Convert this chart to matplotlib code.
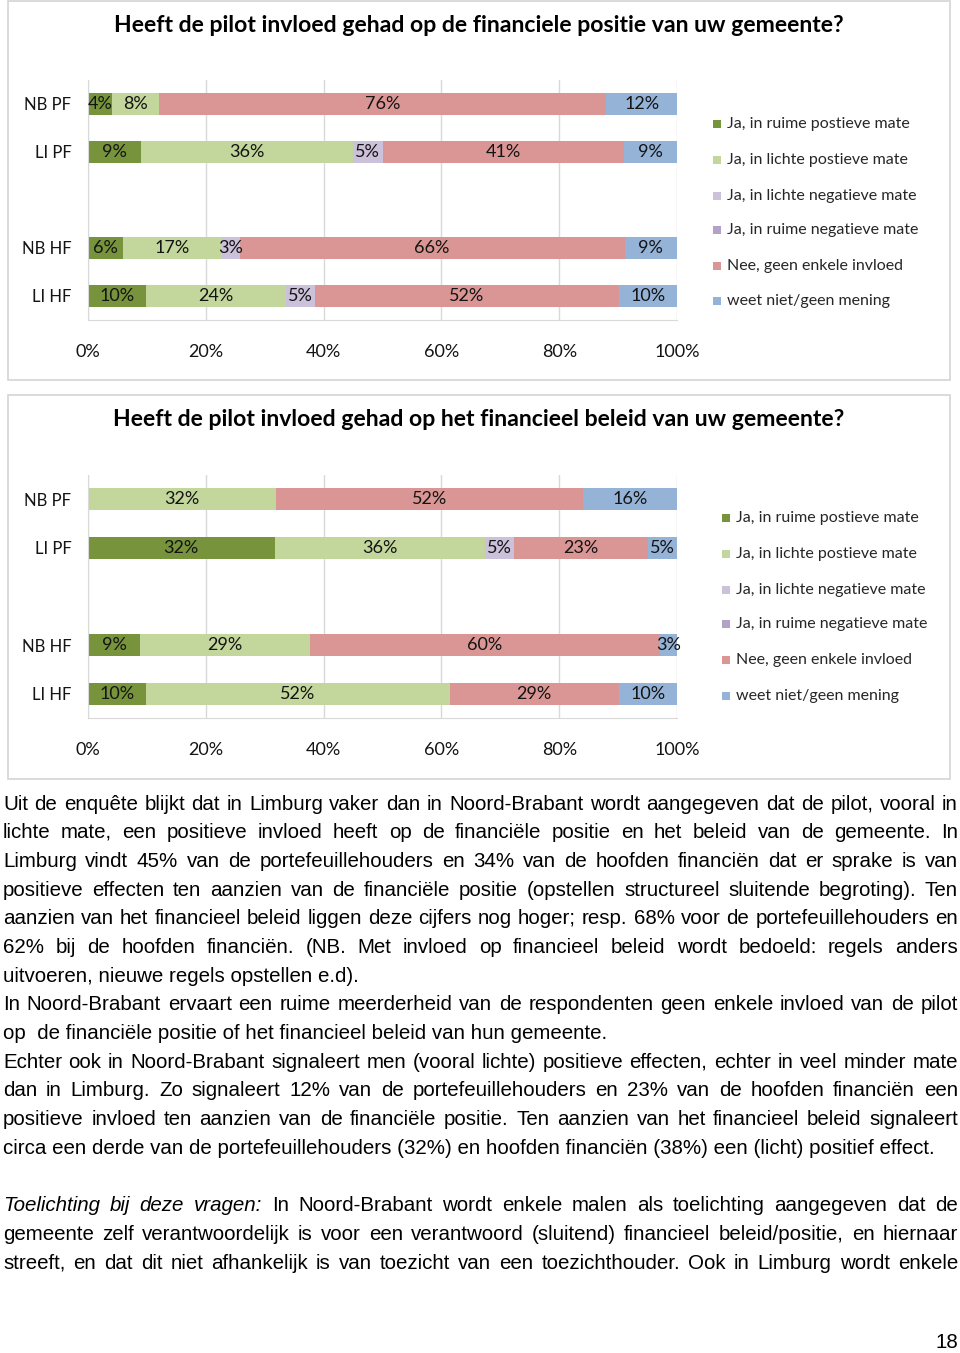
import matplotlib.pyplot as plt
from matplotlib.patches import Rectangle

W, H = 960, 1353


def fx(x):
    return x / W


def fy(y):
    return 1 - y / H


# categories and series
categories = ['NB PF', 'LI PF', 'NB HF', 'LI HF']
series_labels = ['Ja, in ruime postieve mate', 'Ja, in lichte postieve mate',
                 'Ja, in lichte negatieve mate', 'Ja, in ruime negatieve mate',
                 'Nee, geen enkele invloed', 'weet niet/geen mening']
colors = ['#77933C', '#C3D69B', '#CCC1DA', '#B3A2C7', '#D99694', '#95B3D7']

# chart 1: financiele positie
title_1 = 'Heeft de pilot invloed gehad op de financiele positie van uw gemeente?'
ruime_pos_1 = [4, 9, 6, 10]
lichte_pos_1 = [8, 36, 17, 24]
lichte_neg_1 = [0, 5, 3, 5]
ruime_neg_1 = [0, 0, 0, 0]
geen_1 = [76, 41, 66, 52]
weet_1 = [12, 9, 9, 10]

# chart 2: financieel beleid
title_2 = 'Heeft de pilot invloed gehad op het financieel beleid van uw gemeente?'
ruime_pos_2 = [0, 32, 9, 10]
lichte_pos_2 = [32, 36, 29, 52]
lichte_neg_2 = [0, 5, 0, 0]
ruime_neg_2 = [0, 0, 0, 0]
geen_2 = [52, 23, 60, 29]
weet_2 = [16, 5, 3, 10]

xticks = [0, 20, 40, 60, 80, 100]

body_lines = [
    'Uit de enquête blijkt dat in Limburg vaker dan in Noord-Brabant wordt aangegeven dat de pilot, vooral in',
    'lichte mate, een positieve invloed heeft op de financiële positie en het beleid van de gemeente. In',
    'Limburg vindt 45% van de portefeuillehouders en 34% van de hoofden financiën dat er sprake is van',
    'positieve effecten ten aanzien van de financiële positie (opstellen structureel sluitende begroting). Ten',
    'aanzien van het financieel beleid liggen deze cijfers nog hoger; resp. 68% voor de portefeuillehouders en',
    '62% bij de hoofden financiën. (NB. Met invloed op financieel beleid wordt bedoeld: regels anders',
    'uitvoeren, nieuwe regels opstellen e.d).',
    'In Noord-Brabant ervaart een ruime meerderheid van de respondenten geen enkele invloed van de pilot',
    'op  de financiële positie of het financieel beleid van hun gemeente.',
    'Echter ook in Noord-Brabant signaleert men (vooral lichte) positieve effecten, echter in veel minder mate',
    'dan in Limburg. Zo signaleert 12% van de portefeuillehouders en 23% van de hoofden financiën een',
    'positieve invloed ten aanzien van de financiële positie. Ten aanzien van het financieel beleid signaleert',
    'circa een derde van de portefeuillehouders (32%) en hoofden financiën (38%) een (licht) positief effect.',
    '',
    'Toelichting bij deze vragen: In Noord-Brabant wordt enkele malen als toelichting aangegeven dat de',
    'gemeente zelf verantwoordelijk is voor een verantwoord (sluitend) financieel beleid/positie, en hiernaar',
    'streeft, en dat dit niet afhankelijk is van toezicht van een toezichthouder. Ook in Limburg wordt enkele',
]
justify = [True, True, True, True, True, True, False, True, False, True, True, True,
           False, False, True, True, True]
italic_prefix = 'Toelichting bij deze vragen:'
page_number = '18'

chart_font = ['Lato', 'DejaVu Sans']
body_font = ['Liberation Sans Narrow', 'Liberation Sans', 'DejaVu Sans']

fig = plt.figure(figsize=(9.6, 13.53), dpi=100)
renderer = fig.canvas.get_renderer()


def fit_text(t, target_px):
    w = t.get_window_extent(renderer).width
    t.set_fontsize(t.get_fontsize() * target_px / w)


def draw_chart(box, plot, title, title_y, data, leg_x, leg_ys):
    x0, y0, x1, y1 = box
    fig.patches.append(Rectangle((fx(x0), fy(y1)), (x1 - x0) / W, (y1 - y0) / H,
                                 transform=fig.transFigure, facecolor='none',
                                 edgecolor='#D4D4D4', lw=1.2))
    t = fig.text(fx(479), fy(title_y), title, ha='center', va='center',
                 fontsize=16, fontweight='bold', family=chart_font, color='black')
    fit_text(t, 734)

    px0, py0, px1, py1 = plot
    ax = fig.add_axes([fx(px0), fy(py1), (px1 - px0) / W, (py1 - py0) / H])
    pos = [0, 1, 3, 4]
    totals = [sum(s[i] for s in data) for i in range(len(categories))]
    left = [0.0] * len(categories)
    for vals, col in zip(data, colors):
        widths = [v / tot * 100 for v, tot in zip(vals, totals)]
        bars = ax.barh(pos, widths, left=left, height=0.46, color=col, zorder=2)
        for b, v in zip(bars, vals):
            if v:
                ax.text(b.get_x() + b.get_width() / 2, b.get_y() + b.get_height() / 2,
                        f'{v}%', ha='center', va='center', fontsize=13,
                        family=chart_font, color='#141414', zorder=3)
        left = [l + w for l, w in zip(left, widths)]

    ax.set_xlim(0, 100)
    ax.set_ylim(4.5, -0.5)
    ax.set_xticks(xticks)
    ax.set_xticklabels([f'{v}%' for v in xticks])
    ax.set_yticks(pos)
    ax.set_yticklabels(categories)
    ax.tick_params(axis='x', length=0, pad=17, labelsize=13)
    ax.tick_params(axis='y', length=0, pad=12, labelsize=12)
    for lab in ax.get_xticklabels() + ax.get_yticklabels():
        lab.set_family(chart_font)
        lab.set_color('#141414')
    ax.grid(axis='x', color='#D9D9D9', lw=1)
    ax.set_axisbelow(True)
    for s in ['top', 'right']:
        ax.spines[s].set_visible(False)
    for s in ['left', 'bottom']:
        ax.spines[s].set_color('#D9D9D9')

    # legend
    leg_texts = []
    for lab, col, ly in zip(series_labels, colors, leg_ys):
        fig.patches.append(Rectangle((fx(leg_x), fy(ly + 4)), 8 / W, 8 / H,
                                     transform=fig.transFigure, facecolor=col, lw=0))
        leg_texts.append(fig.text(fx(leg_x + 14), fy(ly), lab, ha='left', va='center',
                                  fontsize=10.5, family=chart_font, color='#262626'))
    scale = 184 / leg_texts[0].get_window_extent(renderer).width
    for tt in leg_texts:
        tt.set_fontsize(10.5 * scale)
    return ax


draw_chart((8, 1, 950, 380), (88, 80, 677, 320), title_1, 25,
           [ruime_pos_1, lichte_pos_1, lichte_neg_1, ruime_neg_1, geen_1, weet_1],
           713, [124, 160, 196, 230, 266, 301])
draw_chart((8, 395, 950, 779), (88, 475, 677, 718), title_2, 419,
           [ruime_pos_2, lichte_pos_2, lichte_neg_2, ruime_neg_2, geen_2, weet_2],
           722, [518, 554, 590, 624, 660, 696])

# body text, justified between x=3 and x=958
left_x, right_x = 3, 958
probe = fig.text(0, 0, '', fontsize=13, family=body_font)
widest = 0
for line, j in zip(body_lines, justify):
    if j:
        probe.set_text(line)
        widest = max(widest, probe.get_window_extent(renderer).width)
probe.remove()
body_size = min(14.8, 13 * (right_x - left_x - 6) / widest)

y_first, spacing = 804, 28.69
n_italic = len(italic_prefix.split())
for i, (line, j) in enumerate(zip(body_lines, justify)):
    if not line:
        continue
    y = y_first + i * spacing
    words = line.split()
    styles = ['normal'] * len(words)
    if line.startswith(italic_prefix):
        styles[:n_italic] = ['italic'] * n_italic
    if not j:
        fig.text(fx(left_x), fy(y), line, ha='left', va='center',
                 fontsize=body_size, family=body_font, color='black')
        continue
    texts = [fig.text(0, fy(y), w, ha='left', va='center', fontsize=body_size,
                      family=body_font, style=st, color='black')
             for w, st in zip(words, styles)]
    widths = [t.get_window_extent(renderer).width for t in texts]
    gap = (right_x - left_x - sum(widths)) / (len(words) - 1)
    x = left_x
    for t, w in zip(texts, widths):
        t.set_x(fx(x))
        x += w + gap

fig.text(fx(958), fy(1343), page_number, ha='right', va='center',
         fontsize=body_size, family=body_font, color='black')

fig.savefig('out.png', dpi=100, facecolor='white')
